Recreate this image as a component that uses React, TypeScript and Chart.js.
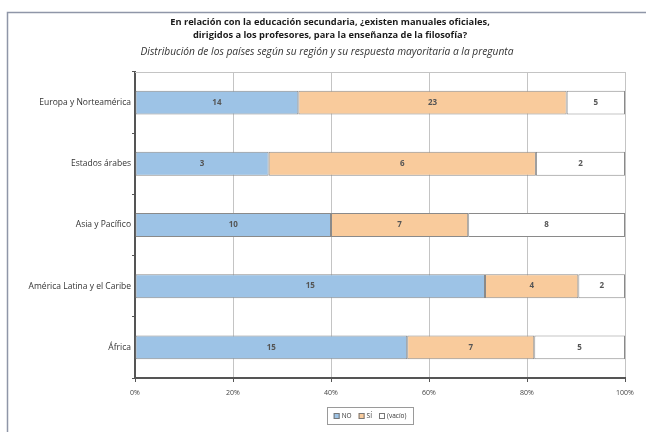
import React, { useEffect, useRef } from "react";
import { Chart, registerables } from "chart.js";

Chart.register(...registerables);

const titleLines = [
  "En relación con la educación secundaria, ¿existen manuales oficiales,",
  "dirigidos a los profesores, para la enseñanza de la filosofía?",
];
const subtitleText =
  "Distribución de los países según su región y su respuesta mayoritaria a la pregunta";

const categories = [
  "Europa y Norteamérica",
  "Estados árabes",
  "Asia y Pacífico",
  "América Latina y el Caribe",
  "África",
];
const seriesLabels = ["NO", "SÍ", "(vacío)"];
const noCounts = [14, 3, 10, 15, 15];
const siCounts = [23, 6, 7, 4, 7];
const vacioCounts = [5, 2, 8, 2, 5];
const seriesColors = ["#9DC3E6", "#F9CB9C", "#FFFFFF"];
const tickStep = 20;

const FONT = "'Open Sans', 'Noto Sans', sans-serif";

export default function App() {
  const ref = useRef<HTMLCanvasElement | null>(null);

  useEffect(() => {
    if (!ref.current) return;
    const counts = [noCounts, siCounts, vacioCounts];
    const totals = categories.map((_, i) => noCounts[i] + siCounts[i] + vacioCounts[i]);
    const datasets = counts.map((arr, k) => ({
      label: seriesLabels[k],
      data: arr.map((v, i) => (v / totals[i]) * 100),
      counts: arr,
      backgroundColor: seriesColors[k],
      borderColor: "#8a8a8a",
      borderWidth: 1,
      borderSkipped: false,
      barPercentage: 0.39,
      categoryPercentage: 1,
    }));

    const decor = {
      id: "decor",
      beforeDraw(chart: any) {
        const ctx = chart.ctx;
        ctx.save();
        ctx.fillStyle = "#fff";
        ctx.fillRect(0, 0, chart.width, chart.height);
        ctx.strokeStyle = "#8f96a8";
        ctx.lineWidth = 1.5;
        ctx.beginPath();
        ctx.moveTo(7.5, 440);
        ctx.lineTo(7.5, 12.5);
        ctx.lineTo(646, 12.5);
        ctx.stroke();
        ctx.fillStyle = "#1a1a1a";
        ctx.textAlign = "center";
        ctx.textBaseline = "middle";
        ctx.font = `bold 9.3px ${FONT}`;
        ctx.fillText(titleLines[0], 330, 22);
        ctx.fillText(titleLines[1], 330, 35);
        ctx.font = `italic 10.2px ${FONT}`;
        ctx.fillStyle = "#333";
        ctx.fillText(subtitleText, 327, 52);
        ctx.restore();
      },
      beforeDatasetsDraw(chart: any) {
        const { ctx, chartArea: a } = chart;
        ctx.save();
        ctx.strokeStyle = "#c4c4c4";
        ctx.lineWidth = 1;
        ctx.beginPath();
        ctx.moveTo(a.left, a.top + 0.5);
        ctx.lineTo(a.right, a.top + 0.5);
        ctx.stroke();
        ctx.restore();
      },
      afterDatasetsDraw(chart: any) {
        const ctx = chart.ctx;
        ctx.save();
        ctx.font = `bold 8px ${FONT}`;
        ctx.fillStyle = "#555";
        ctx.textAlign = "center";
        ctx.textBaseline = "middle";
        chart.data.datasets.forEach((ds: any, di: number) => {
          const meta = chart.getDatasetMeta(di);
          meta.data.forEach((el: any, i: number) => {
            const x = (el.x + el.base) / 2;
            ctx.fillText(String(ds.counts[i]), x, el.y);
          });
        });
        ctx.restore();
      },
      afterDraw(chart: any) {
        const ctx = chart.ctx;
        ctx.save();
        ctx.font = `6.5px ${FONT}`;
        ctx.textBaseline = "middle";
        ctx.textAlign = "left";
        const box = 6;
        const gap = 2;
        const itemGap = 7;
        const widths = chart.data.datasets.map(
          (ds: any) => box + gap + ctx.measureText(ds.label).width
        );
        const total = widths.reduce((s: number, w: number) => s + w, 0) + itemGap * (widths.length - 1);
        const left = 327, right = 413, top = 407, bottom = 424;
        ctx.strokeStyle = "#9a9a9a";
        ctx.lineWidth = 1;
        ctx.strokeRect(left + 0.5, top + 0.5, right - left, bottom - top);
        let x = (left + right) / 2 - total / 2;
        const cy = (top + bottom) / 2 + 0.5;
        chart.data.datasets.forEach((ds: any, k: number) => {
          ctx.fillStyle = ds.backgroundColor;
          ctx.fillRect(x, cy - box / 2, box, box);
          ctx.strokeStyle = "#777";
          ctx.strokeRect(x + 0.5, cy - box / 2 + 0.5, box - 1, box - 1);
          ctx.fillStyle = "#333";
          ctx.fillText(ds.label, x + box + gap, cy);
          x += widths[k] + itemGap;
        });
        ctx.restore();
      },
    };

    const chart = new Chart(ref.current, {
      type: "bar",
      data: { labels: categories, datasets: datasets as any },
      options: {
        indexAxis: "y",
        animation: false,
        responsive: false,
        layout: { padding: { top: 72, right: 21, left: 0, bottom: 0 } },
        plugins: {
          legend: { display: false },
          title: { display: false },
          tooltip: { enabled: false },
        },
        scales: {
          x: {
            stacked: true,
            min: 0,
            max: 100,
            ticks: {
              stepSize: tickStep,
              callback: (v: any) => `${v}%`,
              font: { size: 7, family: FONT },
              color: "#444",
              padding: 7,
              maxRotation: 0,
            },
            grid: {
              color: "#c4c4c4",
              tickColor: "#555",
              tickLength: 4,
              drawOnChartArea: true,
            },
            border: { display: true, color: "#555", width: 2 },
            afterFit: (s: any) => {
              s.height = 54;
            },
          },
          y: {
            stacked: true,
            ticks: {
              font: { size: 8.5, family: FONT },
              color: "#333",
              padding: 1,
            },
            grid: {
              offset: true,
              drawOnChartArea: false,
              tickColor: "#555",
              tickLength: 3,
            },
            border: { display: true, color: "#555", width: 2 },
            afterFit: (s: any) => {
              s.width = 135;
            },
          },
        },
      },
      plugins: [decor],
    });
    return () => chart.destroy();
  }, []);

  return (
    <div style={{ position: "fixed", left: 0, top: 0, width: 646, height: 432, background: "#fff" }}>
      <canvas ref={ref} width={646} height={432} style={{ display: "block" }} />
    </div>
  );
}
